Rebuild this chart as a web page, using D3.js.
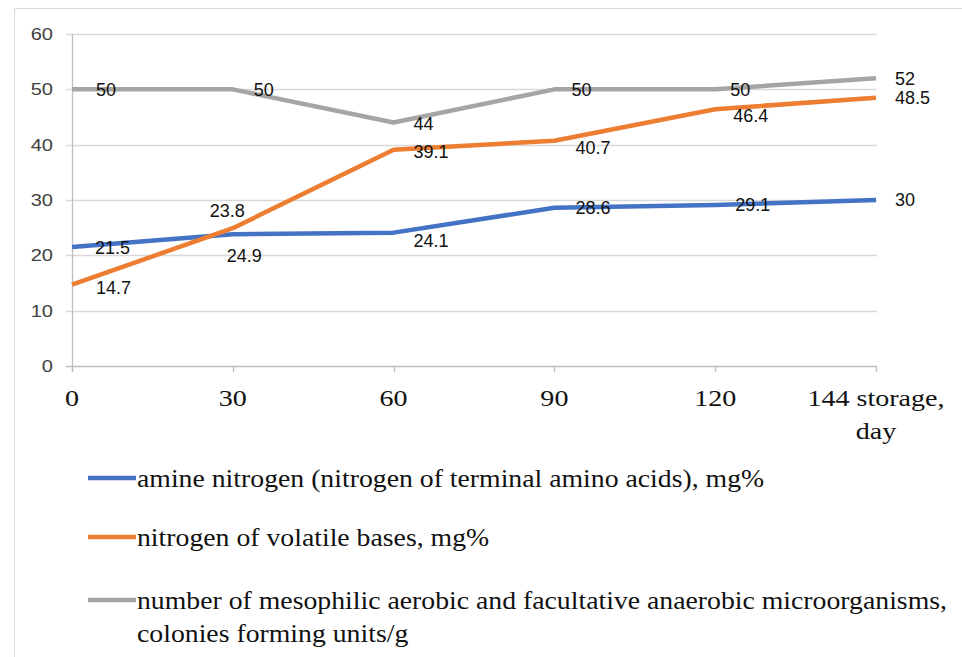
<!DOCTYPE html>
<html><head><meta charset="utf-8">
<script src="https://cdn.jsdelivr.net/npm/d3@7"></script>
<style>body{margin:0;background:#fff}svg{display:block}</style>
</head><body>
<svg id="chart" width="962" height="657"></svg>
<script>
const categories = ["0", "30", "60", "90", "120", "144"];
const amineNitrogen = [21.5, 23.8, 24.1, 28.6, 29.1, 30];
const volatileBases = [14.7, 24.9, 39.1, 40.7, 46.4, 48.5];
const microorganisms = [50, 50, 44, 50, 50, 52];
const yTicks = [0, 10, 20, 30, 40, 50, 60];
const seriesNames = [
  ["amine nitrogen (nitrogen of terminal amino acids), mg%"],
  ["nitrogen of volatile bases, mg%"],
  ["number of mesophilic aerobic and facultative anaerobic microorganisms,", "colonies forming units/g"]
];
const xAxisTitle = "storage,";
const xAxisTitle2 = "day";

// label offsets (style, px) per series per point
const labelOffsets = [
  [[23, 1], [-23, -24], [20, 8], [21, 0], [20, 0], [19, 0]],
  [[24, 3], [-6, 27], [20, 2], [21, 7], [18, 6], [19, 0]],
  [[24, 0], [21, 0], [20, 1], [17, 0], [15, 0], [19, 0]]
];
const colors = ["#4472C4", "#ED7D31", "#A5A5A5"];
const SERIF = "'Liberation Serif', 'Times New Roman', serif";
const SANS = "'Liberation Sans', Arial, sans-serif";

const svg = d3.select("#chart");
// frame
svg.append("line").attr("x1", 14.5).attr("x2", 962).attr("y1", 8.5).attr("y2", 8.5).attr("stroke", "#d9d9d9");
svg.append("line").attr("x1", 14.5).attr("x2", 14.5).attr("y1", 8.5).attr("y2", 657).attr("stroke", "#d9d9d9");

const x = d3.scalePoint().domain(categories).range([72, 876]);
const y = d3.scaleLinear().domain([0, 60]).range([366, 34]);

// gridlines
svg.append("g").selectAll("line").data(yTicks.filter(d => d > 0)).join("line")
  .attr("x1", 66).attr("x2", 877).attr("y1", d => Math.round(y(d)) + 0.5).attr("y2", d => Math.round(y(d)) + 0.5)
  .attr("stroke", "#d9d9d9").attr("stroke-width", 1.3);
svg.append("line").attr("x1", 66).attr("x2", 877).attr("y1", Math.round(y(0)) + 0.5).attr("y2", Math.round(y(0)) + 0.5)
  .attr("stroke", "#bfbfbf").attr("stroke-width", 1.3);
svg.append("line").attr("x1", 72.5).attr("x2", 72.5).attr("y1", y(60)).attr("y2", y(0) + 6)
  .attr("stroke", "#bfbfbf").attr("stroke-width", 1.3);
svg.append("g").selectAll("line").data(categories).join("line")
  .attr("x1", d => Math.round(x(d)) + 0.5).attr("x2", d => Math.round(x(d)) + 0.5)
  .attr("y1", y(0)).attr("y2", y(0) + 6).attr("stroke", "#bfbfbf").attr("stroke-width", 1.3);

function stretched(sel, px, py, sx) {
  return sel.attr("transform", (d, i) => `translate(${px(d, i)},${py(d, i)}) scale(${sx},1)`);
}

// y labels
stretched(svg.append("g").selectAll("text").data(yTicks).join("text"), () => 53, d => y(d), 1.18)
  .attr("dy", "0.35em").attr("text-anchor", "end")
  .attr("font-family", SANS).attr("font-size", 17).attr("fill", "#404040")
  .text(d => d);

// x labels
stretched(svg.append("g").selectAll("text").data(categories).join("text"), d => x(d), () => 406, 1.17)
  .attr("text-anchor", "middle")
  .attr("font-family", SERIF).attr("font-size", 24).attr("fill", "#111")
  .text((d, i) => i === categories.length - 1 ? d + " " + xAxisTitle : d);
svg.append("text").attr("transform", `translate(${x(categories[categories.length - 1])},439) scale(1.17,1)`)
  .attr("text-anchor", "middle")
  .attr("font-family", SERIF).attr("font-size", 24).attr("fill", "#111")
  .text(xAxisTitle2);

const allSeries = [amineNitrogen, volatileBases, microorganisms];
const line = d3.line().x((d, i) => x(categories[i])).y(d => y(d));
allSeries.forEach((s, k) => {
  svg.append("path").datum(s).attr("d", line).attr("fill", "none")
    .attr("stroke", colors[k]).attr("stroke-width", 4.5).attr("stroke-linejoin", "round").attr("stroke-linecap", "butt");
});
// data labels
allSeries.forEach((s, k) => {
  svg.append("g").selectAll("text").data(s).join("text")
    .attr("x", (d, i) => x(categories[i]) + labelOffsets[k][i][0])
    .attr("y", (d, i) => y(d) + labelOffsets[k][i][1])
    .attr("dy", "0.35em")
    .attr("font-family", SANS).attr("font-size", 18).attr("fill", "#111")
    .text(d => d);
});

// legend
const legendY = [478, 537, 600];
seriesNames.forEach((lines, k) => {
  const g = svg.append("g");
  g.append("line").attr("x1", 88).attr("x2", 136).attr("y1", legendY[k]).attr("y2", legendY[k])
    .attr("stroke", colors[k]).attr("stroke-width", 4.5);
  lines.forEach((t, j) => {
    g.append("text").attr("transform", `translate(137,${legendY[k] + j * 33}) scale(1.11,1)`).attr("dy", "0.35em")
      .attr("font-family", SERIF).attr("font-size", 25).attr("fill", "#111")
      .text(t);
  });
});
</script>
</body></html>
